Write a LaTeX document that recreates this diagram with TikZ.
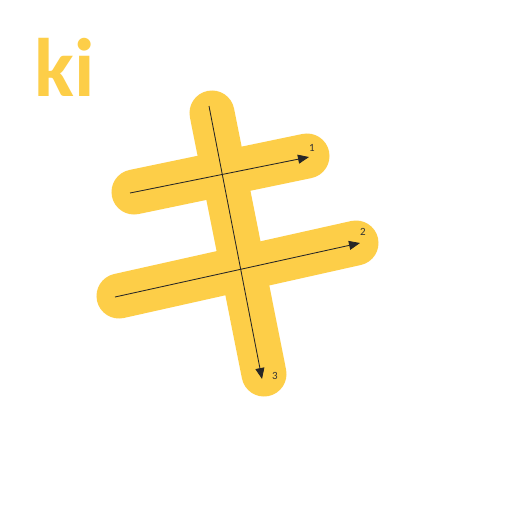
\documentclass[tikz,border=0pt]{standalone}
\usepackage{fontspec}
\setmainfont{Carlito}
\usetikzlibrary{arrows.meta}
\definecolor{kiyellow}{RGB}{253,206,72}
\tikzset{
  brush/.style={line width=45pt,line cap=round,draw=kiyellow},
  guide/.style={line width=0.85pt,draw=black!85,-{Triangle[length=11pt,width=9pt]}},
  num/.style={font=\fontsize{11}{11}\selectfont,text=black!80,inner sep=0pt}
}
\begin{document}
\begin{tikzpicture}[x=1pt,y=-1pt]
\useasboundingbox (0,0) rectangle (512,512);
\fill[white] (0,0) rectangle (512,512);
\coordinate (s1a) at (134,192);
\coordinate (s1b) at (307,156);
\coordinate (s2a) at (119,296);
\coordinate (s2b) at (356,243);
\coordinate (s3a) at (212,113);
\coordinate (s3b) at (264,374);
\coordinate (c1) at (130,193);
\coordinate (e1) at (309,157);
\coordinate (c2) at (115,297);
\coordinate (e2) at (360,243);
\coordinate (b3) at (209,106);
\coordinate (e3) at (262,379);
\draw[brush] (s1a) -- (s1b);
\draw[brush] (s2a) -- (s2b);
\draw[brush] (s3a) -- (s3b);
\draw[guide] (c1) -- (e1);
\draw[guide] (c2) -- (e2);
\draw[guide] (b3) -- (e3);
\node[num] (n1) at (312,148) {1};
\node[num] (n2) at (363,232) {2};
\node[num] (n3) at (275,376) {3};
\node[anchor=base west,inner sep=0pt,text=kiyellow,font=\fontsize{83}{83}\selectfont\bfseries] (ki) at (34,96) {ki};
\end{tikzpicture}
\end{document}
